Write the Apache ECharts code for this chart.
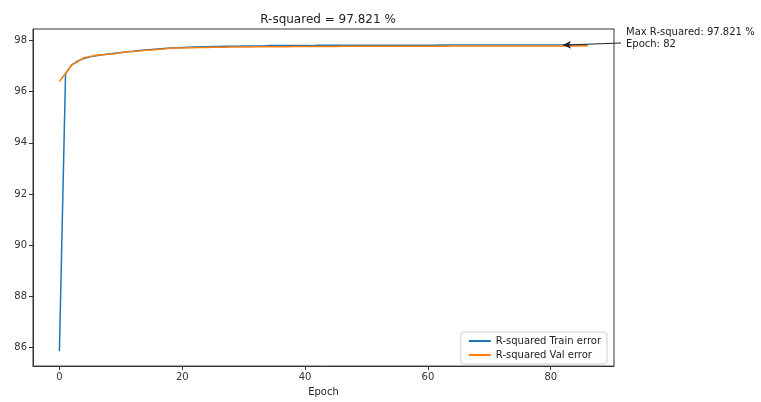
<!DOCTYPE html>
<html>
<head>
<meta charset="utf-8">
<script src="https://cdn.jsdelivr.net/npm/echarts@6/dist/echarts.min.js"></script>
<style>html,body{margin:0;padding:0;background:#fff}#c{width:761px;height:402px}</style>
</head>
<body>
<div id="c"></div>
<script>
const epochs = Array.from({length: 87}, (_, i) => i);
const trainR2 = [
  85.86, 96.70, 97.05, 97.20, 97.30, 97.36, 97.40, 97.44, 97.47, 97.50,
  97.53, 97.56, 97.58, 97.61, 97.63, 97.65, 97.67, 97.69, 97.71, 97.72,
  97.73, 97.74, 97.75, 97.76, 97.76, 97.77, 97.77, 97.78, 97.78, 97.78,
  97.79, 97.79, 97.79, 97.79, 97.80, 97.80, 97.80, 97.80, 97.80, 97.80,
  97.80, 97.80, 97.81, 97.81, 97.81, 97.81, 97.81, 97.81, 97.81, 97.81,
  97.81, 97.81, 97.81, 97.81, 97.81, 97.81, 97.81, 97.81, 97.81, 97.81,
  97.81, 97.81, 97.82, 97.82, 97.82, 97.82, 97.82, 97.82, 97.82, 97.82,
  97.82, 97.82, 97.82, 97.82, 97.82, 97.82, 97.82, 97.82, 97.82, 97.82,
  97.82, 97.82, 97.82, 97.82, 97.82, 97.82, 97.82
];
const valR2 = [
  96.40, 96.72, 97.04, 97.18, 97.33, 97.38, 97.42, 97.44, 97.46, 97.48,
  97.52, 97.56, 97.57, 97.59, 97.62, 97.63, 97.65, 97.67, 97.70, 97.71,
  97.71, 97.72, 97.72, 97.73, 97.73, 97.74, 97.74, 97.74, 97.75, 97.75,
  97.75, 97.75, 97.76, 97.76, 97.76, 97.76, 97.76, 97.76, 97.77, 97.77,
  97.77, 97.77, 97.77, 97.77, 97.77, 97.77, 97.78, 97.78, 97.78, 97.78,
  97.78, 97.78, 97.78, 97.78, 97.78, 97.78, 97.78, 97.78, 97.78, 97.78,
  97.78, 97.78, 97.78, 97.78, 97.79, 97.79, 97.79, 97.79, 97.79, 97.79,
  97.79, 97.79, 97.79, 97.79, 97.79, 97.79, 97.79, 97.79, 97.79, 97.79,
  97.79, 97.79, 97.79, 97.79, 97.79, 97.79, 97.79
];
const xTicks = [0, 20, 40, 60, 80];
const yTicks = [86, 88, 90, 92, 94, 96, 98];
const maxEpoch = 82;
const maxR2 = 97.821;
const titleText = 'R-squared = 97.821 %';
const annText = 'Max R-squared: 97.821 %\nEpoch: 82';

const font = 'DejaVu Sans';
const chart = echarts.init(document.getElementById('c'), null, {renderer: 'canvas'});
chart.setOption({
  animation: false,
  backgroundColor: '#fff',
  textStyle: {fontFamily: font},
  title: {
    text: titleText, left: 323, top: 9, textAlign: 'center',
    textStyle: {fontFamily: font, fontSize: 12, fontWeight: 'normal', color: '#222'}
  },
  grid: {left: 33, top: 29, right: 147, bottom: 32, show: true, borderColor: '#333', borderWidth: 1},
  legend: {
    orient: 'vertical', right: 154, bottom: 38,
    backgroundColor: '#fff', borderColor: '#d0d0d0', borderWidth: 1, borderRadius: 3,
    padding: [4, 6, 4, 8], itemGap: 4, itemWidth: 22, itemHeight: 2,
    icon: 'rect',
    textStyle: {fontFamily: font, fontSize: 10, color: '#222'},
    data: ['R-squared Train error', 'R-squared Val error']
  },
  xAxis: {
    type: 'value', min: -4.3, max: 90.3,
    name: 'Epoch', nameLocation: 'middle', nameGap: 20,
    nameTextStyle: {fontFamily: font, fontSize: 10, color: '#222'},
    axisLine: {show: true, onZero: false, lineStyle: {color: '#333'}},
    axisTick: {show: true, length: 4, customValues: xTicks, lineStyle: {color: '#333'}},
    axisLabel: {customValues: xTicks, fontFamily: font, fontSize: 10, color: '#333', margin: 6},
    splitLine: {show: false}
  },
  yAxis: {
    type: 'value', min: 85.27, max: 98.45,
    axisLine: {show: true, onZero: false, lineStyle: {color: '#333'}},
    axisTick: {show: true, length: 4, customValues: yTicks, lineStyle: {color: '#333'}},
    axisLabel: {customValues: yTicks, fontFamily: font, fontSize: 10, color: '#333', margin: 6},
    splitLine: {show: false}
  },
  series: [
    {
      name: 'R-squared Train error', type: 'line', showSymbol: false, symbol: 'none',
      data: epochs.map((e, i) => [e, trainR2[i]]),
      lineStyle: {color: '#1f77b4', width: 1.5}, itemStyle: {color: '#1f77b4'}
    },
    {
      name: 'R-squared Val error', type: 'line', showSymbol: false, symbol: 'none',
      data: epochs.map((e, i) => [e, valR2[i]]),
      lineStyle: {color: '#ff7f0e', width: 1.5}, itemStyle: {color: '#ff7f0e'},
      markLine: {
        silent: true, animation: false,
        symbol: ['arrow', 'none'], symbolSize: [6, 8],
        label: {show: false},
        lineStyle: {color: '#222', width: 1, type: 'solid'},
        data: [[{coord: [maxEpoch, maxR2]}, {x: 621, y: 43}]]
      }
    }
  ],
  graphic: [{
    type: 'text', left: 626, top: 26,
    style: {text: annText, fontFamily: font, fontSize: 10, fill: '#222', lineHeight: 12}
  }]
});
</script>
</body>
</html>
